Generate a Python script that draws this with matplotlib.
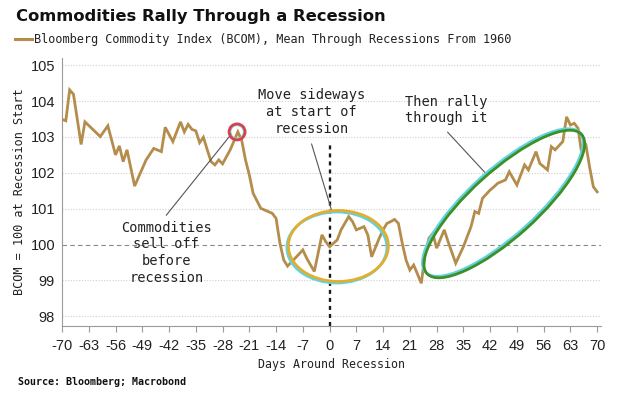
import matplotlib
matplotlib.use('Agg')
import matplotlib.pyplot as plt
from matplotlib.patches import Ellipse
import matplotlib.transforms as mtransforms

plt.rcParams['axes.unicode_minus'] = False

# ---- data ----
days = [-70, -69, -68, -67, -65, -64, -60, -58, -56, -55, -54, -53, -51, -48, -46,
        -44, -43, -41, -39, -38, -37, -36, -35, -34, -33, -32, -31, -30, -29, -28,
        -26, -24, -23, -22, -21, -20, -18, -15, -14, -13, -12, -11, -9, -7, -6,
        -4, -2, -1, 0, 2, 3, 5, 6, 7, 9, 10, 11, 13, 14, 15, 16, 17, 18, 19, 20,
        21, 22, 24, 25, 26, 27, 28, 30, 31, 33, 35, 37, 38, 39, 40, 42, 43, 44,
        46, 47, 49, 51, 52, 54, 55, 57, 58, 59, 61, 62, 63, 64, 65, 66, 67, 68,
        69, 70]
bcom = [103.49, 103.45, 104.31, 104.19, 102.79, 103.42, 103.01, 103.31, 102.50,
        102.75, 102.31, 102.64, 101.63, 102.36, 102.68, 102.59, 103.27, 102.87,
        103.42, 103.14, 103.35, 103.21, 103.17, 102.84, 102.99, 102.64, 102.31,
        102.22, 102.36, 102.25, 102.64, 103.14, 102.91, 102.36, 101.94, 101.43,
        101.01, 100.87, 100.73, 100.04, 99.57, 99.40, 99.62, 99.85, 99.62, 99.25,
        100.27, 100.08, 99.94, 100.13, 100.41, 100.78, 100.64, 100.41, 100.50,
        100.27, 99.66, 100.18, 100.41, 100.59, 100.64, 100.70, 100.59, 100.04,
        99.57, 99.29, 99.43, 98.92, 99.76, 100.18, 100.31, 99.90, 100.41, 100.08,
        99.48, 99.94, 100.50, 100.92, 100.87, 101.29, 101.52, 101.61, 101.71,
        101.80, 102.03, 101.66, 102.22, 102.08, 102.59, 102.26, 102.08, 102.73,
        102.64, 102.87, 103.56, 103.33, 103.38, 103.24, 102.50, 102.82, 102.17,
        101.61, 101.47]
x_ticks = list(range(-70, 71, 7))
y_ticks = [98, 99, 100, 101, 102, 103, 104, 105]

title = "Commodities Rally Through a Recession"
legend_label = "Bloomberg Commodity Index (BCOM), Mean Through Recessions From 1960"
source = "Source: Bloomberg; Macrobond"

LINE_C = '#B48C4B'
MONO = 'DejaVu Sans Mono'
SANS = 'Liberation Sans'

fig = plt.figure(figsize=(6.35, 3.97), dpi=100)
ax = fig.add_axes([62/635, 1-326/397, (601-62)/635, (326-58)/397])
ax.set_xlim(-70, 71)
ax.set_ylim(97.73, 105.2)

# grid
for yv in y_ticks:
    if yv == 100:
        ax.axhline(yv, color='#8a8a8a', lw=0.8, ls=(0, (4, 3)), zorder=1)
    else:
        ax.axhline(yv, color='#cfcfcf', lw=0.8, ls=(0, (1, 1.5)), zorder=1)

# recession start line
ax.plot([0, 0], [97.73, 102.8], color='#1a1a1a', lw=1.7, ls=(0, (1.7, 1.7)), zorder=2)

ax.plot(days, bcom, color=LINE_C, lw=2.0, zorder=3, solid_joinstyle='miter')

for s in ['top', 'right']:
    ax.spines[s].set_visible(False)
for s in ['left', 'bottom']:
    ax.spines[s].set_color('#9a9a9a')
    ax.spines[s].set_linewidth(0.8)

ax.set_xticks(x_ticks)
ax.set_yticks(y_ticks)
ax.tick_params(axis='x', length=4, color='#9a9a9a', pad=5, labelsize=10.5, labelcolor='#222222')
ax.tick_params(axis='y', length=0, pad=5, labelsize=10.5, labelcolor='#222222')
for lab in ax.get_xticklabels() + ax.get_yticklabels():
    lab.set_fontfamily(SANS)

ax.set_xlabel("Days Around Recession", family=MONO, fontsize=8.4, color='#222222', labelpad=4)
ax.set_ylabel("BCOM = 100 at Recession Start", family=MONO, fontsize=8.6, color='#222222', labelpad=3)

# title, legend, source
fig.text(16/635, 1-16/397, title, fontsize=11.8, fontweight='bold', family='DejaVu Sans',
         va='center', ha='left', color='#111111')
fig.add_artist(plt.Line2D([15/635, 32/635], [1-39/397, 1-39/397], color=LINE_C, lw=2.2))
fig.text(34/635, 1-39/397, legend_label, fontsize=8.6, family=MONO, va='center', ha='left',
         color='#222222')
fig.text(18/635, 1-382/397, source, fontsize=7.2, family=MONO, fontweight='bold',
         va='center', ha='left', color='#111111')


def px_patch(cx, cy, w, h, angle, color, lw, dx=0, dy=0):
    tr = mtransforms.ScaledTranslation(cx, cy, ax.transData) + mtransforms.Affine2D().translate(dx, dy)
    e = Ellipse((0, 0), w, h, angle=angle, transform=tr, fill=False, edgecolor=color,
                lw=lw, zorder=5, clip_on=False)
    fig.add_artist(e)


# red circle at pre-recession peak
px_patch(-24.2, 103.14, 13, 13, 0, '#6fd6de', 1.0)
px_patch(-24.2, 103.14, 16, 16, 0, '#d8404a', 2.0)
# gold ellipse at recession start
px_patch(2.3, 99.96, 100, 71, 0, '#5fd3df', 2.0, dx=-1.5, dy=-1.5)
px_patch(2.3, 99.96, 100, 71, 0, '#E3AE2E', 2.0)
# green ellipse along rally
px_patch(45.7, 101.13, 208, 66, 42, '#5fd3df', 2.0, dx=-1.5, dy=1.5)
px_patch(45.7, 101.13, 208, 66, 42, '#3E8F26', 2.0)

# annotations
ax.text(-42.7, 99.77, "Commodities\nsell off\nbefore\nrecession", family=MONO, fontsize=9.8,
        ha='center', va='center', linespacing=1.25, color='#222222', zorder=6)
ax.plot([-42.7, -25.7], [100.82, 103.08], color='#555555', lw=0.8, zorder=4)

ax.text(-4.7, 103.69, "Move sideways\nat start of\nrecession", family=MONO, fontsize=9.8,
        ha='center', va='center', linespacing=1.25, color='#222222', zorder=6)
ax.plot([-4.7, 0.5], [102.80, 100.96], color='#555555', lw=0.8, zorder=4)

ax.text(30.4, 103.75, "Then rally\nthrough it", family=MONO, fontsize=9.8,
        ha='center', va='center', linespacing=1.25, color='#222222', zorder=6)
ax.plot([30.9, 40.8], [103.13, 101.99], color='#555555', lw=0.8, zorder=4)

fig.savefig('out.png', dpi=100)
